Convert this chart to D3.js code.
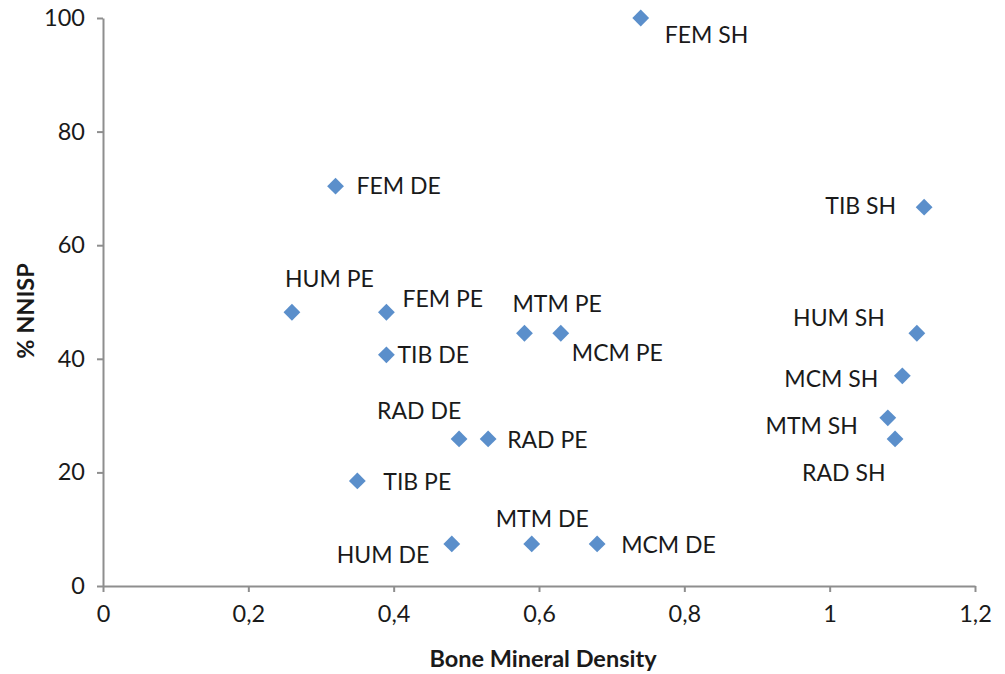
<!DOCTYPE html>
<html><head><meta charset="utf-8">
<script src="https://cdn.jsdelivr.net/npm/d3@7"></script>
<style>body{margin:0;background:#fff}</style>
</head><body>
<svg id="c" width="1005" height="674"></svg>
<script>
const labels = ["FEM SH","FEM DE","TIB SH","HUM PE","FEM PE","MTM PE","MCM PE","HUM SH","TIB DE","MCM SH","MTM SH","RAD DE","RAD PE","RAD SH","TIB PE","HUM DE","MTM DE","MCM DE"];
const bmd =   [0.74, 0.32, 1.13, 0.26, 0.39, 0.58, 0.63, 1.12, 0.39, 1.10, 1.08, 0.49, 0.53, 1.09, 0.35, 0.48, 0.59, 0.68];
const nnisp = [100, 70.4, 66.7, 48.2, 48.2, 44.5, 44.5, 44.5, 40.7, 37.0, 29.6, 25.9, 25.9, 25.9, 18.5, 7.4, 7.4, 7.4];
const xTicks = [0, 0.2, 0.4, 0.6, 0.8, 1, 1.2];
const yTicks = [0, 20, 40, 60, 80, 100];
// label placement (layout): [dx, dy, anchor]
const labelPlace = [[24,25,"start"],[21,8,"start"],[-28,7,"end"],[-7,-25,"start"],[16,-5,"start"],[-12,-21,"start"],[11,28,"start"],[-32,-7,"end"],[11,8,"start"],[-24,11,"end"],[-30,16,"end"],[-82,-20,"start"],[19,9,"start"],[-93,42,"start"],[26,9,"start"],[-115,19,"start"],[-36,-17,"start"],[24,9,"start"]];

const svg = d3.select("#c");
const font = "Lato, 'Open Sans', sans-serif";
const x = d3.scaleLinear().domain([0,1.2]).range([103,975]);
const y = d3.scaleLinear().domain([0,100]).range([586,18]);
const fmt = d => String(d).replace(".", ",");
const axisColor = "#8e8e8e";

const gx = svg.append("g").attr("transform","translate(0,586)")
  .call(d3.axisBottom(x).tickValues(xTicks).tickFormat(fmt).tickSizeOuter(0).tickSizeInner(6).tickPadding(13));
const gy = svg.append("g").attr("transform","translate(103,0)")
  .call(d3.axisLeft(y).tickValues(yTicks).tickSizeOuter(0).tickSizeInner(6).tickPadding(12));
[gx,gy].forEach(g=>{
  g.selectAll("path,line").attr("stroke",axisColor).attr("stroke-width",2);
  g.selectAll("text").attr("font-family",font).attr("font-size",23.5).attr("fill","#1a1a1a");
});

svg.append("text").attr("x",543).attr("y",667).attr("text-anchor","middle")
  .attr("font-family",font).attr("font-size",23.5).attr("font-weight","bold").attr("fill","#1a1a1a")
  .text("Bone Mineral Density");
svg.append("text").attr("transform","translate(34,311) rotate(-90)").attr("text-anchor","middle")
  .attr("font-family",font).attr("font-size",23.5).attr("font-weight","bold").attr("fill","#1a1a1a")
  .text("% NNISP");

const pts = labels.map((l,i)=>({l, x:bmd[i], y:nnisp[i], p:labelPlace[i]}));
const sym = d3.symbol().type(d3.symbolDiamond2).size(180);
svg.append("g").selectAll("path").data(pts).join("path")
  .attr("d", sym).attr("transform", d=>`translate(${x(d.x)},${y(d.y)})`)
  .attr("fill","#5b8fcb");
svg.append("g").selectAll("text").data(pts).join("text")
  .attr("x", d=>x(d.x)+d.p[0]).attr("y", d=>y(d.y)+d.p[1]).attr("text-anchor", d=>d.p[2])
  .attr("font-family",font).attr("font-size",23).attr("fill","#1a1a1a").text(d=>d.l);
</script>
</body></html>
